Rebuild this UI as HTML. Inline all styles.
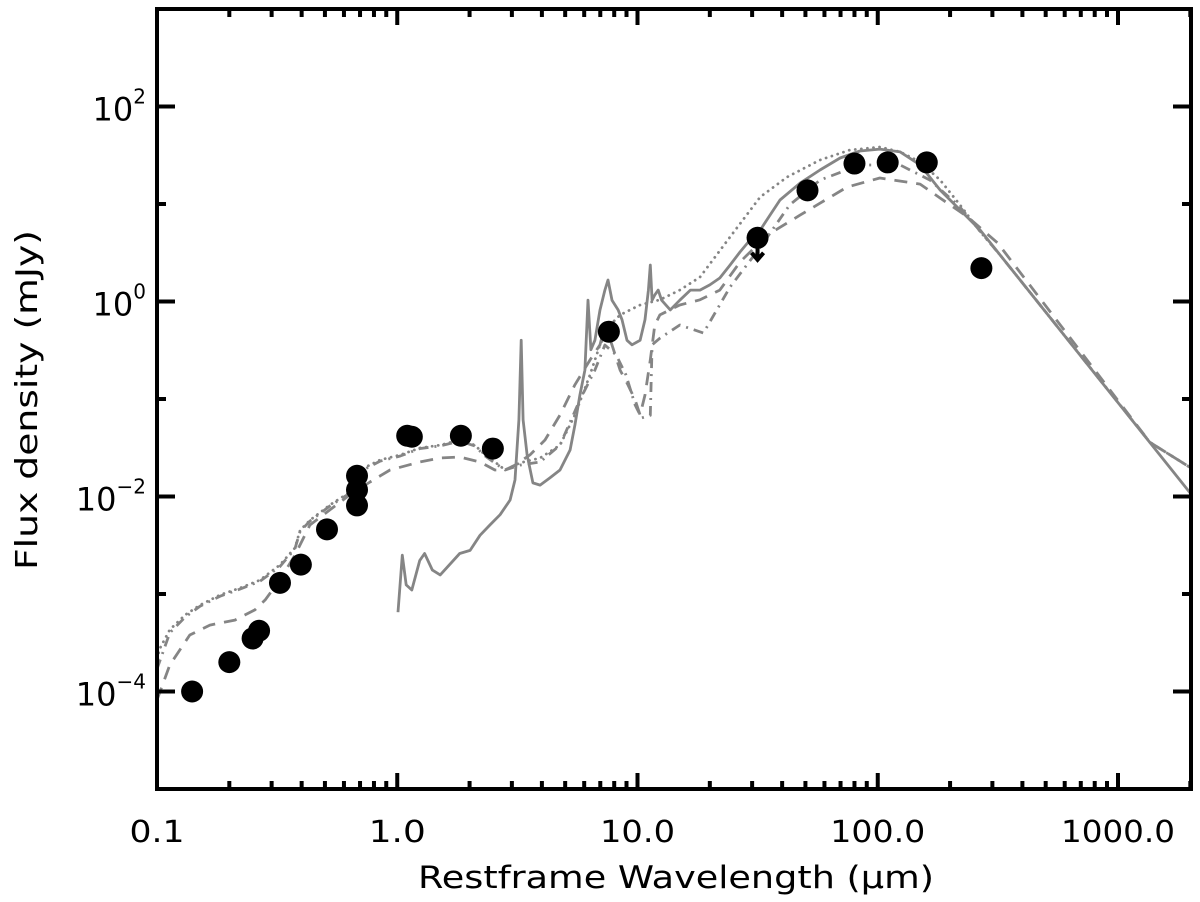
<!DOCTYPE html>
<html><head><meta charset="utf-8"><style>
body{margin:0;background:#fff}
svg{display:block;font-family:"DejaVu Sans","Liberation Sans",sans-serif}
</style></head><body>
<svg id="chart" width="1200" height="902" viewBox="0 0 1200 902" xmlns="http://www.w3.org/2000/svg">
<g id="curves"></g>
<g id="points"></g>
<g id="axes"></g>
<text x="676" y="888" font-size="31" text-anchor="middle" textLength="516" lengthAdjust="spacingAndGlyphs">Restframe Wavelength (μm)</text>
<text transform="translate(37,400) rotate(-90)" font-size="30" text-anchor="middle" textLength="340" lengthAdjust="spacingAndGlyphs">Flux density (mJy)</text>
</svg>
<script>
// ---- data ----
const obsWave = [0.14,0.20,0.25,0.266,0.325,0.397,0.51,0.68,0.68,0.68,1.10,1.15,1.84,2.5,7.6,31.6,51,80,110,160,270];
const obsFlux = [1.0e-4,2.0e-4,3.5e-4,4.2e-4,1.3e-3,2.0e-3,4.6e-3,8.1e-3,0.0117,0.0163,0.042,0.041,0.042,0.031,0.49,4.5,13.8,26,26.7,26.7,2.2];
const upperLimitWave = [31.6];
const upperLimitFlux = [4.5];

const solidWave = [1.007,1.05,1.09,1.15,1.24,1.30,1.40,1.51,1.82,2.01,2.21,2.43,2.68,2.95,3.09,3.21,3.28,3.34,3.47,3.67,3.93,4.32,4.76,5.24,5.49,5.76,6.04,6.22,6.40,6.65,6.98,7.32,7.54,7.83,8.30,8.62,9.04,9.49,10.25,10.75,11.1,11.3,11.5,11.8,12.2,12.6,13.7,15.0,16.6,18.2,20.0,22.0,24.3,26.7,29.4,32.4,35.6,39.2,47.5,57.5,69.7,84.3,102,124,150,182,220,267,2013];
const solidFlux = [6.5e-4,2.5e-3,1.24e-3,1.1e-3,2.2e-3,2.6e-3,1.76e-3,1.57e-3,2.6e-3,2.8e-3,4.0e-3,5.1e-3,6.5e-3,9.2e-3,0.0148,0.061,0.40,0.061,0.0267,0.0138,0.0131,0.0155,0.0187,0.030,0.054,0.11,0.198,1.03,0.32,0.40,0.82,1.31,1.66,1.03,0.82,0.65,0.40,0.36,0.40,0.65,1.31,2.37,1.03,1.17,1.31,1.03,0.82,1.03,1.31,1.31,1.48,1.74,2.37,3.22,4.27,5.4,7.7,11.0,16.4,22.3,29.6,35,36.6,34.2,25.1,13.9,8.7,5.4,0.0106];

const dottedWave = [0.10,0.102,0.113,0.131,0.151,0.183,0.221,0.268,0.324,0.375,0.394,0.433,0.525,0.635,0.70,0.847,1.03,1.24,1.51,1.82,2.10,2.32,2.55,2.81,3.24,3.93,4.76,5.49,6.34,6.98,7.69,8.46,10.25,12.4,15.0,18.2,24.3,32.4,42.0,57.5,76.6,102,124,150,182,220,267,323,1358,2013];
const dottedFlux = [1.87e-4,2.67e-4,4.3e-4,6.1e-4,7.7e-4,9.8e-4,1.15e-3,1.39e-3,1.98e-3,2.96e-3,4.5e-3,5.7e-3,8.2e-3,0.0111,0.0187,0.0237,0.0267,0.0314,0.0337,0.038,0.0337,0.0267,0.0226,0.0187,0.0221,0.0248,0.0337,0.0686,0.177,0.36,0.574,0.728,0.92,1.04,1.31,1.78,4.6,11.8,18.9,28.3,35.8,38.4,34.2,27.0,17.6,9.8,5.2,3.0,0.036,0.0196];

const dashedWave = [0.10,0.113,0.137,0.166,0.211,0.256,0.282,0.324,0.375,0.433,0.525,0.635,0.77,0.933,1.24,1.51,1.82,2.21,2.55,2.81,3.09,3.57,4.12,4.76,5.49,6.34,6.98,7.32,7.83,8.46,9.14,9.77,10.25,10.75,11.3,11.8,12.4,15.0,18.2,22.0,26.7,34.7,47.5,57.5,74.5,102,150,182,236,315,1358,2013];
const dashedFlux = [8.2e-5,1.87e-4,3.8e-4,4.8e-4,5.4e-4,6.9e-4,8.7e-4,1.39e-3,2.5e-3,5.1e-3,7.3e-3,0.0104,0.0141,0.0187,0.0226,0.0248,0.0254,0.0226,0.0187,0.0187,0.021,0.0267,0.038,0.0686,0.14,0.251,0.36,0.574,0.358,0.198,0.139,0.098,0.0686,0.11,0.251,0.574,0.728,0.92,1.04,1.31,2.54,4.8,7.7,10.2,14.9,18.5,16.0,11.5,7.4,4.0,0.036,0.0196];

const dashDotWave = [0.10,0.113,0.131,0.151,0.183,0.221,0.268,0.324,0.375,0.394,0.433,0.525,0.635,0.70,0.847,1.03,1.24,1.51,1.82,2.10,2.32,2.55,2.81,3.24,3.93,4.76,5.76,6.65,7.32,8.15,8.95,9.77,10.4,11.3,11.5,12.4,15.0,18.8,24.3,32.4,43.0,57.5,84.3,124,165,220,323,1358,2013];
const dashDotFlux = [1.7e-4,4.0e-4,5.8e-4,7.5e-4,9.5e-4,1.12e-3,1.35e-3,1.9e-3,2.9e-3,4.4e-3,5.6e-3,8.0e-3,0.0108,0.018,0.023,0.026,0.031,0.033,0.037,0.033,0.026,0.022,0.0187,0.021,0.0226,0.0337,0.098,0.198,0.358,0.283,0.177,0.087,0.064,0.068,0.36,0.42,0.574,0.475,1.41,3.6,9.8,17.6,25.1,25.1,17.6,9.3,3.0,0.036,0.0196];

const xTickValues = [0.1,1,10,100,1000];
const xTickLabels = ["0.1","1.0","10.0","100.0","1000.0"];
const yMajorExp = [-4,-2,0,2];
const yTickLabelBase = ["10","10","10","10"];
const yTickLabelExp = ["−4","−2","0","2"];

// ---- scales ----
const L=157,R=1191,T=9,B=789;
const xMin=0.1,xMax=2013,yMin=1e-5,yMax=1e3;
function xs(v){return L+(Math.log10(v)-Math.log10(xMin))/(Math.log10(xMax)-Math.log10(xMin))*(R-L);}
function ys(v){return B-(Math.log10(v)-Math.log10(yMin))/(Math.log10(yMax)-Math.log10(yMin))*(B-T);}
const NS="http://www.w3.org/2000/svg";
function mk(tag,attrs,parent){const e=document.createElementNS(NS,tag);for(const k in attrs)e.setAttribute(k,attrs[k]);parent.appendChild(e);return e;}

const curves=document.getElementById('curves');
function drawCurve(w,f,name,dash){
  let d='';for(let i=0;i<w.length;i++){d+=(i?'L':'M')+xs(w[i]).toFixed(1)+','+ys(f[i]).toFixed(1);}
  const p=mk('path',{d:d,fill:'none',stroke:'#858585','stroke-width':'2.8','stroke-linejoin':'round','stroke-linecap':dash==='dot'?'round':'butt'},curves);
  if(dash==='dot')p.setAttribute('stroke-dasharray','0.1 6');
  else if(dash)p.setAttribute('stroke-dasharray',dash);
  
  
}
drawCurve(dottedWave,dottedFlux,'dotted-model-curve','dot');
drawCurve(dashDotWave,dashDotFlux,'dash-dot-model-curve','10 6 2 6');
drawCurve(dashedWave,dashedFlux,'dashed-model-curve','13 9');
drawCurve(solidWave,solidFlux,'solid-model-curve',null);

const pts=document.getElementById('points');
for(let i=0;i<obsWave.length;i++){
  const c=mk('circle',{cx:xs(obsWave[i]),cy:ys(obsFlux[i]),r:11,fill:'#000'},pts);
  
  
}
for(let i=0;i<upperLimitWave.length;i++){
  const x=xs(upperLimitWave[i]),y=ys(upperLimitFlux[i]);
  const a=mk('path',{d:`M${x},${y} L${x},${y+22} M${x-6},${y+15} L${x},${y+22} L${x+6},${y+15}`,stroke:'#000','stroke-width':'4',fill:'none'},pts);
  
  
}

// ---- axes ----
const ax=document.getElementById('axes');
const frame=mk('rect',{x:L,y:T,width:R-L,height:B-T,fill:'none',stroke:'#000','stroke-width':'4'},ax);


for(let dec=-1;dec<=3;dec++){
  for(let m=1;m<=9;m++){
    const v=m*Math.pow(10,dec); if(v>xMax)continue;
    const x=xs(v),len=m===1?16:8;
    mk('line',{x1:x,y1:B,x2:x,y2:B-len,stroke:'#000','stroke-width':'4'},ax);
    mk('line',{x1:x,y1:T,x2:x,y2:T+len,stroke:'#000','stroke-width':'4'},ax);
  }
}
const xLabelWidths=[55,57,75,95,114];
xTickValues.forEach((v,i)=>{
  const t=mk('text',{x:xs(v),y:842,'font-size':'30','text-anchor':'middle',textLength:xLabelWidths[i],lengthAdjust:'spacingAndGlyphs'},ax);
  t.textContent=xTickLabels[i];
  
  
});
for(let e=-5;e<=3;e++){
  const y=ys(Math.pow(10,e)),len=(e%2===0)?18:9;
  mk('line',{x1:L,y1:y,x2:L+len,y2:y,stroke:'#000','stroke-width':'4'},ax);
  mk('line',{x1:R,y1:y,x2:R-len,y2:y,stroke:'#000','stroke-width':'4'},ax);
}
yMajorExp.forEach((e,i)=>{
  const y=ys(Math.pow(10,e));
  const g=mk('text',{x:146,y:y+14,'text-anchor':'end'},ax);
  
  
  const b=mk('tspan',{'font-size':'32'},g);
  b.textContent=yTickLabelBase[i];
  const s=mk('tspan',{'font-size':'20',dy:'-17'},g);
  s.textContent=yTickLabelExp[i];
});
</script>
</body></html>
